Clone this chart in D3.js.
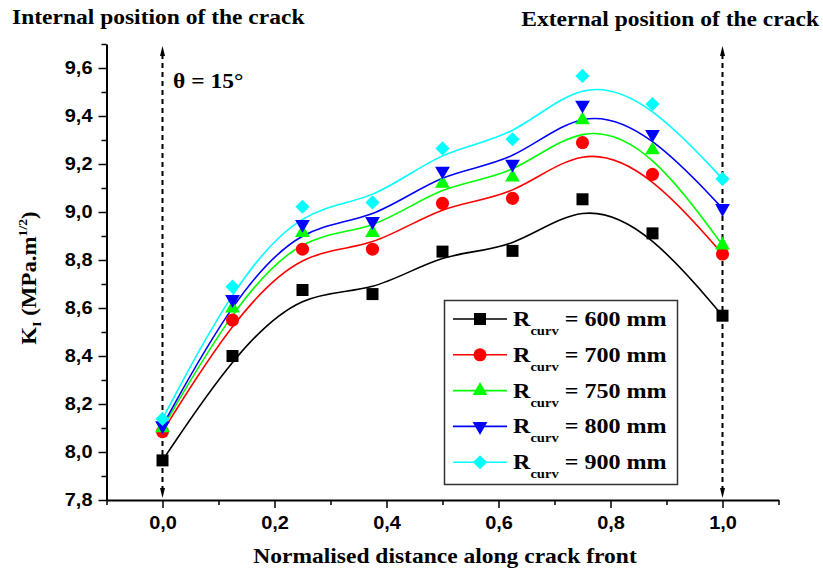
<!DOCTYPE html>
<html>
<head>
<meta charset="utf-8">
<script src="https://cdn.jsdelivr.net/npm/d3@7/dist/d3.min.js"></script>
<style>
  body { margin: 0; background: #fff; }
  svg { display: block; }
  .serif { font-family: "Liberation Serif", "Times New Roman", Times, serif; font-weight: bold; }
  .sans { font-family: "Liberation Sans", Arial, Helvetica, sans-serif; font-weight: bold; }
</style>
</head>
<body>
<svg id="chart" width="823" height="571"></svg>
<script>
// normalised position along the crack front
var positions = [0, 0.125, 0.25, 0.375, 0.5, 0.625, 0.75, 0.875, 1.0];

// K_I values for each radius of curvature
var r600 = [7.965, 8.400, 8.675, 8.658, 8.835, 8.838, 9.053, 8.911, 8.568];
var r700 = [8.085, 8.550, 8.845, 8.845, 9.036, 9.057, 9.289, 9.157, 8.825];
var r750 = [8.100, 8.599, 8.914, 8.914, 9.119, 9.145, 9.383, 9.258, 8.862];
var r800 = [8.110, 8.636, 8.949, 8.961, 9.171, 9.200, 9.446, 9.324, 9.015];
var r900 = [8.138, 8.689, 9.022, 9.040, 9.265, 9.303, 9.567, 9.450, 9.138];

var seriesNames = ["600", "700", "750", "800", "900"];
var seriesColors = ["#000000", "#ff0000", "#00ff00", "#0000ff", "#00ffff"];
var seriesShapes = ["square", "circle", "up", "down", "diamond"];

var xMajor = [0, 0.2, 0.4, 0.6, 0.8, 1.0];
var xMinor = [-0.1, 0.1, 0.3, 0.5, 0.7, 0.9, 1.1];
var yMajor = [7.8, 8.0, 8.2, 8.4, 8.6, 8.8, 9.0, 9.2, 9.4, 9.6];
var yMinor = [7.9, 8.1, 8.3, 8.5, 8.7, 8.9, 9.1, 9.3, 9.5, 9.7];

var series = [r600, r700, r750, r800, r900];

var svg = d3.select("#chart");
var stretch = 1.14; // the original picture is a bit wider than tall

var x = d3.scaleLinear().domain([-0.1, 1.1]).range([106.5, 778.5]);
var y = d3.scaleLinear().domain([7.8, 9.7]).range([500, 44]);

var comma = function(d) { return d3.format(".1f")(d).replace(".", ","); };

// axes
var xAxis = svg.append("g").attr("transform", "translate(0,500)")
  .call(d3.axisBottom(x).tickValues(xMajor).tickSize(8).tickSizeOuter(0).tickFormat(comma));
xAxis.append("g").call(d3.axisBottom(x).tickValues(xMinor).tickSize(5).tickSizeOuter(0).tickFormat(""))
  .select(".domain").remove();

var yAxis = svg.append("g").attr("transform", "translate(106.5,0)")
  .call(d3.axisLeft(y).tickValues(yMajor).tickSize(8).tickSizeOuter(0).tickFormat(comma));
yAxis.append("g").call(d3.axisLeft(y).tickValues(yMinor).tickSize(5).tickSizeOuter(0).tickFormat(""))
  .select(".domain").remove();

svg.selectAll(".domain").attr("stroke", "#000").attr("stroke-width", 2);
svg.selectAll(".tick line").attr("stroke", "#000").attr("stroke-width", 1.5);
xAxis.attr("font-family", null).attr("font-size", null);
yAxis.attr("font-family", null).attr("font-size", null);
svg.selectAll(".tick text")
  .attr("class", "sans")
  .style("font-size", "17.5px")
  .attr("fill", "#000")
  .attr("transform", "scale(" + stretch + ",1)");
xAxis.selectAll(".tick text").attr("dy", "1.05em");
yAxis.selectAll(".tick text").attr("x", -14 / stretch);

// dashed arrows marking crack ends
[0, 1].forEach(function(p) {
  var px = x(p);
  svg.append("line")
    .attr("x1", px).attr("x2", px)
    .attr("y1", 54).attr("y2", 492)
    .attr("stroke", "#000").attr("stroke-width", 2)
    .attr("stroke-dasharray", "5,4");
  svg.append("path")
    .attr("d", "M" + px + ",46 L" + (px - 2.5) + ",56 L" + (px + 2.5) + ",56 Z")
    .attr("fill", "#000");
  svg.append("path")
    .attr("d", "M" + px + ",498 L" + (px - 2.5) + ",488 L" + (px + 2.5) + ",488 Z")
    .attr("fill", "#000");
});

// smoothed curves
var line = d3.line()
  .x(function(d, i) { return x(positions[i]); })
  .y(function(d) { return y(d); })
  .curve(d3.curveBasis);

series.forEach(function(vals, k) {
  svg.append("path")
    .attr("d", line(vals))
    .attr("fill", "none")
    .attr("stroke", seriesColors[k])
    .attr("stroke-width", 1.6);
});

function symbolPath(shape) {
  if (shape == "square") return d3.symbol(d3.symbolSquare, 144)();
  if (shape == "circle") return d3.symbol(d3.symbolCircle, 135)();
  if (shape == "diamond") return d3.symbol(d3.symbolSquare, 100)();
  return d3.symbol(d3.symbolTriangle, 95)();
}
function symbolTransform(shape, cx, cy) {
  var t = "translate(" + cx + "," + cy + ")";
  if (shape == "diamond") t += " rotate(45)";
  if (shape == "down") t += " rotate(180)";
  return t;
}

series.forEach(function(vals, k) {
  svg.append("g").selectAll("path")
    .data(vals)
    .enter().append("path")
    .attr("d", symbolPath(seriesShapes[k]))
    .attr("transform", function(d, i) { return symbolTransform(seriesShapes[k], x(positions[i]), y(d)); })
    .attr("fill", seriesColors[k]);
});

// legend
var legend = svg.append("g");
legend.append("rect")
  .attr("x", 444.5).attr("y", 300.5)
  .attr("width", 233).attr("height", 184)
  .attr("fill", "#fff")
  .attr("stroke", "#333").attr("stroke-width", 1.5);

seriesNames.forEach(function(name, k) {
  var cy = 319 + k * 35.8;
  legend.append("line")
    .attr("x1", 453).attr("x2", 507)
    .attr("y1", cy).attr("y2", cy)
    .attr("stroke", seriesColors[k]).attr("stroke-width", 1.6);
  legend.append("path")
    .attr("d", symbolPath(seriesShapes[k]))
    .attr("transform", symbolTransform(seriesShapes[k], 480, cy))
    .attr("fill", seriesColors[k]);
  var t = legend.append("text")
    .attr("class", "serif")
    .attr("transform", "translate(513," + (cy + 7) + ") scale(1.12,1)")
    .style("font-size", "21.5px")
    .attr("fill", "#000");
  t.append("tspan").text("R");
  t.append("tspan").attr("dy", 9).style("font-size", "13px").text("curv");
  t.append("tspan").attr("dy", -9).text(" = " + name + " mm");
});

// annotations
function label(txt, px, py, anchor) {
  return svg.append("text")
    .attr("class", "serif")
    .attr("transform", "translate(" + px + "," + py + ") scale(1.12,1)")
    .attr("text-anchor", anchor || "start")
    .style("font-size", "21px")
    .text(txt);
}
label("Internal position of the crack", 12, 24);
label("External position of the crack", 819, 26, "end");
label("θ = 15°", 173, 88);
label("Normalised distance along crack front", 445, 563, "middle");

var yt = svg.append("text")
  .attr("class", "serif")
  .attr("transform", "translate(36,278) rotate(-90) scale(1.09,1)")
  .attr("text-anchor", "middle")
  .style("font-size", "21px");
yt.append("tspan").text("K");
yt.append("tspan").attr("dy", 5).style("font-size", "12.5px").text("I");
yt.append("tspan").attr("dy", -5).text(" (MPa.m");
yt.append("tspan").attr("dy", -9).style("font-size", "12.5px").text("1/2");
yt.append("tspan").attr("dy", 9).text(")");
</script>
</body>
</html>
